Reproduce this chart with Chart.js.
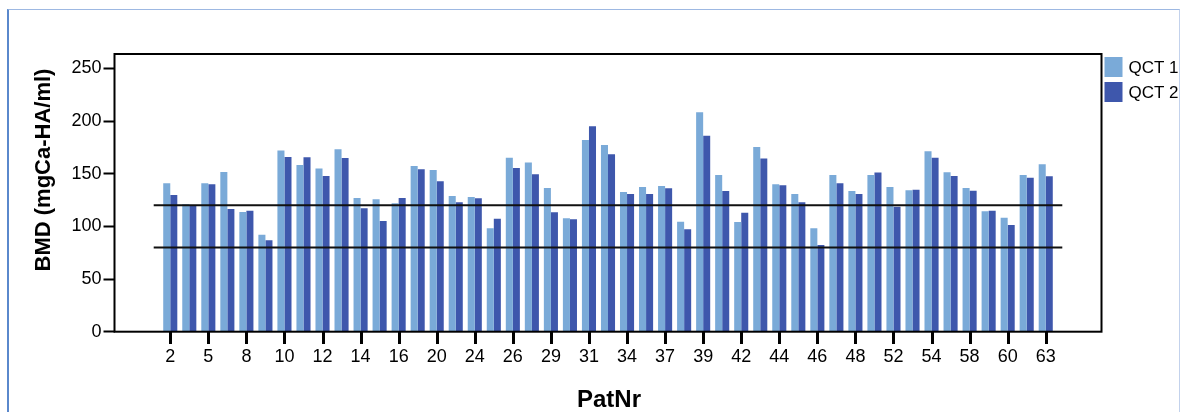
<!DOCTYPE html>
<html>
<head>
<meta charset="utf-8">
<script src="https://cdn.jsdelivr.net/npm/chart.js@4/dist/chart.umd.min.js"></script>
<style>
  html, body { margin: 0; padding: 0; background: #fff; overflow: hidden; }
  #wrap { position: relative; width: 1184px; height: 412px; }
  #frame {
    position: absolute; left: 7px; top: 9px; width: 1173px; height: 430px;
    box-sizing: border-box; pointer-events: none;
    border-left: 2px solid #5a88cc; border-top: 1px solid #9db8e2; border-right: 1px solid #c3d2ec;
  }
  canvas { display: block; }
</style>
</head>
<body>
<div id="wrap">
  <canvas id="c" width="1184" height="412"></canvas>
  <div id="frame"></div>
</div>
<script>
// Patient numbers (one bar pair per patient)
const patNr = [2, 3, 5, 6, 8, 9, 10, 11, 12, 13, 14, 15, 16, 18, 20, 22, 24, 25, 26, 27,
  29, 30, 31, 32, 34, 35, 37, 38, 39, 40, 42, 43, 44, 45, 46, 47, 48, 50, 52, 53,
  54, 56, 58, 59, 60, 61, 63];

// BMD, first measurement (mgCa-HA/ml)
const qct1 = [140.9, 121.0, 141.0, 151.6, 113.6, 92.1, 171.9, 158.3, 154.8, 173.2,
  126.9, 125.7, 121.9, 157.3, 153.5, 128.8, 127.9, 98.2, 165.2, 160.5,
  136.4, 107.6, 182.0, 177.3, 132.6, 137.4, 138.3, 104.4, 208.3, 148.8,
  104.1, 175.4, 139.9, 130.7, 98.2, 148.8, 133.6, 148.8, 137.4, 134.2,
  171.3, 151.3, 136.4, 114.3, 108.2, 148.8, 158.9];

// BMD, second measurement (mgCa-HA/ml)
const qct2 = [129.8, 120.3, 139.9, 116.5, 114.9, 86.8, 165.9, 165.5, 147.8, 164.9,
  117.1, 105.1, 126.9, 154.2, 142.8, 122.8, 126.6, 107.3, 155.4, 149.4,
  113.3, 106.7, 195.0, 168.4, 130.7, 130.7, 136.1, 97.2, 186.1, 133.6,
  113.0, 164.3, 139.0, 122.8, 82.3, 140.9, 130.7, 151.0, 118.7, 134.8,
  165.2, 147.8, 133.9, 114.9, 101.3, 146.2, 147.5];

// Threshold lines
const refLines = [120, 80];
// Y tick values
const yTicks = [0, 50, 100, 150, 200, 250];

const FONT = "'Liberation Sans', Arial, Helvetica, sans-serif";
const COL1 = '#7aaad8';
const COL2 = '#3e57ac';

const lineSpan = [-0.87, patNr.length - 1 + 0.87];
// Indices of the labelled patients (every second one)
const labelled = patNr.map((p, i) => i).filter(i => i % 2 === 0);

const datasets = [
  { type: 'bar', label: 'QCT 1', data: qct1.map((v, i) => ({ x: i, y: v })),
    backgroundColor: COL1, borderWidth: 0, order: 2,
    categoryPercentage: 0.74, barPercentage: 1.0 },
  { type: 'bar', label: 'QCT 2', data: qct2.map((v, i) => ({ x: i, y: v })),
    backgroundColor: COL2, borderWidth: 0, order: 2,
    categoryPercentage: 0.74, barPercentage: 1.0 }
];
refLines.forEach(r => datasets.push({
  type: 'line', label: 'ref' + r,
  data: [{ x: lineSpan[0], y: r }, { x: lineSpan[1], y: r }],
  borderColor: '#111', borderWidth: 2, pointRadius: 0, fill: false, order: 0
}));

// Plot frame, x tick marks, axis titles and legend
const decor = {
  id: 'decor',
  afterDraw(chart) {
    const { ctx, chartArea: a } = chart;
    const xs = chart.scales.x;
    ctx.save();
    ctx.strokeStyle = '#000';
    ctx.lineWidth = 2;
    ctx.strokeRect(a.left, a.top, a.right - a.left, a.bottom - a.top);
    ctx.restore();

    // x tick marks, one under every labelled patient
    ctx.save();
    ctx.fillStyle = '#000';
    const y0 = Math.round(a.bottom);
    labelled.forEach(i => {
      const px = Math.round(xs.getPixelForValue(i));
      ctx.fillRect(px - 1, y0, 3, 12);
    });
    ctx.restore();

    ctx.save();
    ctx.fillStyle = '#000';
    ctx.textAlign = 'center';
    ctx.textBaseline = 'middle';
    ctx.font = 'bold 24px ' + FONT;
    ctx.fillText('PatNr', (a.left + a.right) / 2 + 1, 400);
    ctx.translate(44, 170);
    ctx.rotate(-Math.PI / 2);
    ctx.font = 'bold 22px ' + FONT;
    ctx.fillText('BMD (mgCa-HA/ml)', 0, 0);
    ctx.restore();

    // legend
    ctx.save();
    ctx.font = '17px ' + FONT;
    ctx.textAlign = 'left';
    ctx.textBaseline = 'middle';
    const bars = chart.data.datasets.filter(d => d.type === 'bar');
    bars.forEach((d, i) => {
      const y = a.top + 3 + i * 25;
      ctx.fillStyle = d.backgroundColor;
      ctx.fillRect(a.right + 3, y, 18, 20);
      ctx.fillStyle = '#000';
      ctx.fillText(d.label, a.right + 27, y + 11);
    });
    ctx.restore();
  }
};

new Chart(document.getElementById('c'), {
  data: { datasets },
  options: {
    responsive: false,
    devicePixelRatio: 1,
    animation: false,
    layout: { padding: { left: 0, top: 54, right: 82.5, bottom: 0 } },
    plugins: { legend: { display: false }, tooltip: { enabled: false } },
    scales: {
      x: {
        type: 'linear',
        offset: false,
        min: -2.93,
        max: patNr.length - 1 + 2.93,
        afterFit: s => { s.height = 412 - 331.7; },
        afterBuildTicks: s => { s.ticks = labelled.map(i => ({ value: i })); },
        border: { display: false },
        grid: { display: false, offset: false, drawOnChartArea: false, drawTicks: true, tickLength: 11 },
        ticks: {
          autoSkip: false, maxRotation: 0, padding: 4,
          color: '#000', font: { family: FONT, size: 18 },
          callback: v => patNr[v]
        }
      },
      y: {
        min: 0,
        max: 263.6,
        afterFit: s => { s.width = 114.5; },
        afterBuildTicks: s => { s.ticks = yTicks.map(v => ({ value: v })); },
        border: { display: false },
        grid: { drawOnChartArea: false, drawTicks: true, tickLength: 11, tickColor: '#000', tickWidth: 2 },
        ticks: { padding: 2, color: '#000', font: { family: FONT, size: 18 } }
      }
    }
  },
  plugins: [decor]
});
</script>
</body>
</html>
